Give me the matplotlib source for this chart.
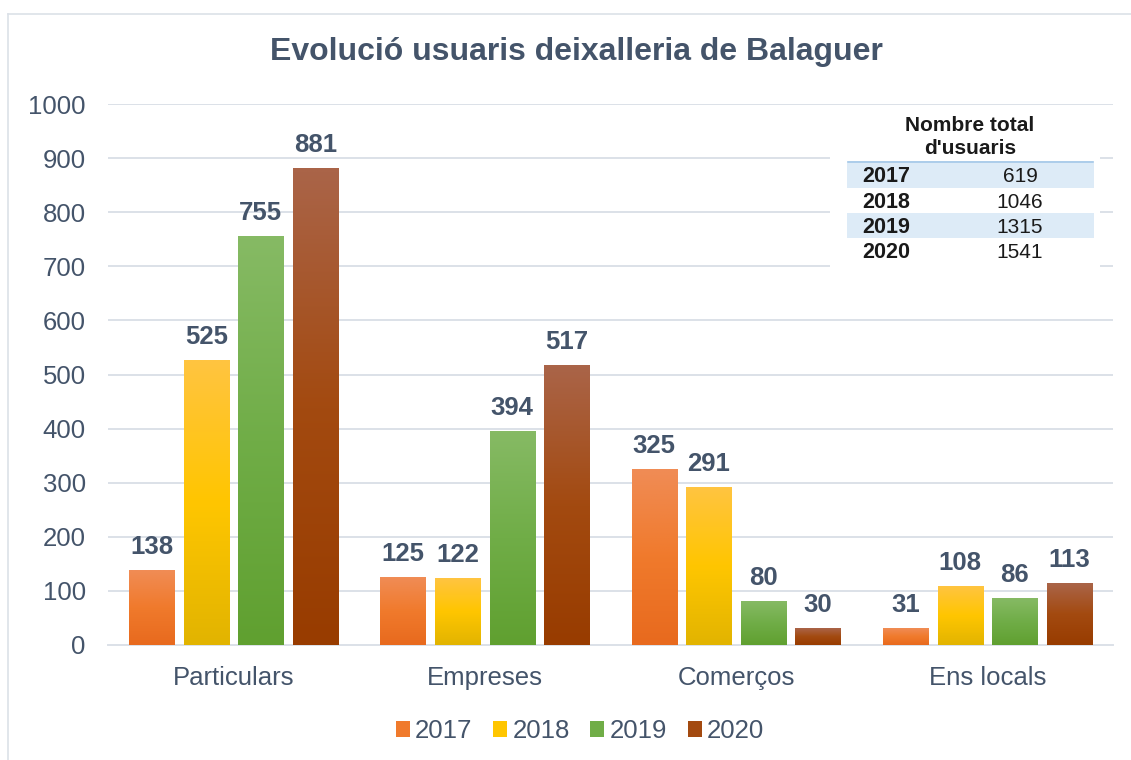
import numpy as np
import matplotlib
matplotlib.use("Agg")
import matplotlib.pyplot as plt
from matplotlib.colors import to_rgb
from matplotlib.patches import Rectangle, Patch
from matplotlib.lines import Line2D

plt.rcParams["font.family"] = ["Liberation Sans", "DejaVu Sans"]

categories = ["Particulars", "Empreses", "Comerços", "Ens locals"]
years = ["2017", "2018", "2019", "2020"]
values = {
    "2017": [138, 125, 325, 31],
    "2018": [525, 122, 291, 108],
    "2019": [755, 394, 80, 86],
    "2020": [881, 517, 30, 113],
}
totals = [619, 1046, 1315, 1541]

# top / middle / bottom colours of each bar gradient
grad_colors = {
    "2017": ["#F08C55", "#F07A2C", "#E86A1E"],
    "2018": ["#FFC440", "#FFC600", "#E2B400"],
    "2019": ["#86BA64", "#70AD47", "#60A030"],
    "2020": ["#AA6448", "#A34A10", "#983C00"],
}
text_col = "#44546A"
grid_col = "#DCE1E8"

W, H = 1131, 760
fig = plt.figure(figsize=(W / 100, H / 100), dpi=100)
ax = fig.add_axes([108 / W, 1 - 645 / H, (1113 - 108) / W, (645 - 104) / H])


def gradient(cols, n=64):
    top, mid, bot = (np.array(to_rgb(c)) for c in cols)
    t = np.linspace(0, 1, n)[:, None]
    upper = top + (mid - top) * np.clip(t * 2, 0, 1)
    lower = mid + (bot - mid) * np.clip(t * 2 - 1, 0, 1)
    g = np.where(t < 0.5, upper, lower)
    return g[:, None, :]


x = np.arange(len(categories))
step = 0.217
width = 0.18
for i, yr in enumerate(years):
    xs = x + (i - 1.5) * step
    bars = ax.bar(xs, values[yr], width, color=grad_colors[yr][1], zorder=2)
    for b, v in zip(bars, values[yr]):
        x0 = b.get_x()
        ax.imshow(gradient(grad_colors[yr]), extent=(x0, x0 + width, 0, v),
                  aspect="auto", zorder=3, interpolation="bilinear")
        ax.annotate(str(v), (x0 + width / 2, v), xytext=(0, 12), textcoords="offset points",
                    ha="center", va="baseline", fontsize=18.5, fontweight="bold",
                    color=text_col, zorder=4)

ax.set_xlim(-0.5, len(categories) - 0.5)
ax.set_ylim(0, 1000)
ax.set_yticks(range(0, 1001, 100))
ax.set_xticks(x)
ax.set_xticklabels(categories)
ax.tick_params(axis="both", length=0, labelsize=18.5, labelcolor=text_col)
ax.tick_params(axis="y", pad=16)
ax.tick_params(axis="x", pad=15)
ax.grid(axis="y", color=grid_col, linewidth=1.4, zorder=0)
ax.set_axisbelow(True)
for s in ["left", "right", "top"]:
    ax.spines[s].set_visible(False)
ax.spines["bottom"].set_color(grid_col)
ax.spines["bottom"].set_linewidth(1.4)

fig.text(576 / W, 1 - 52 / H, "Evolució usuaris deixalleria de Balaguer", ha="center",
         va="center", fontsize=23, fontweight="bold", color=text_col)

# frame
fig.add_artist(Line2D([8 / W, 1], [1 - 14 / H, 1 - 14 / H], color=grid_col, lw=1.2))
fig.add_artist(Line2D([8 / W, 8 / W], [0, 1 - 14 / H], color=grid_col, lw=1.2))

# inset table with total users
def fx(px):
    return px / W


def fy(py):
    return 1 - py / H


fig.add_artist(Rectangle((fx(830), fy(270)), fx(1100) - fx(830), fy(108) - fy(270),
                         facecolor="white", edgecolor="none", zorder=1))
for k in (0, 2):
    ytop = 163 + k * 25
    fig.add_artist(Rectangle((fx(847), fy(ytop + 25)), fx(1094) - fx(847), 25 / H,
                             facecolor="#DDEBF7", edgecolor="none", zorder=1.5))
fig.add_artist(Line2D([fx(848), fx(1093)], [fy(162), fy(162)], color="#9DC3E6", lw=1.2, zorder=2))
fig.text(fx(970), fy(137), "Nombre total\nd'usuaris", ha="center", va="center", fontsize=15,
         fontweight="bold", color="#1A1A1A", linespacing=1.3, zorder=3)
for k, (yr, tot) in enumerate(zip(years, totals)):
    yc = fy(177 + k * 25.3)
    fig.text(fx(862), yc, yr, ha="left", va="center", fontsize=15.5, fontweight="bold",
             color="#1A1A1A", zorder=3)
    fig.text(fx(1020), yc, str(tot), ha="center", va="center", fontsize=15,
             color="#1A1A1A", zorder=3)

handles = [Patch(facecolor=grad_colors[yr][1], edgecolor="none") for yr in years]
leg = fig.legend(handles, years, loc="center", bbox_to_anchor=(580 / W, 1 - 731 / H), ncol=4,
                 frameon=False, fontsize=18.5, handlelength=0.55, handleheight=0.55,
                 handletextpad=0.2, columnspacing=0.8)
for t in leg.get_texts():
    t.set_color(text_col)

fig.savefig("out.png", dpi=100)
